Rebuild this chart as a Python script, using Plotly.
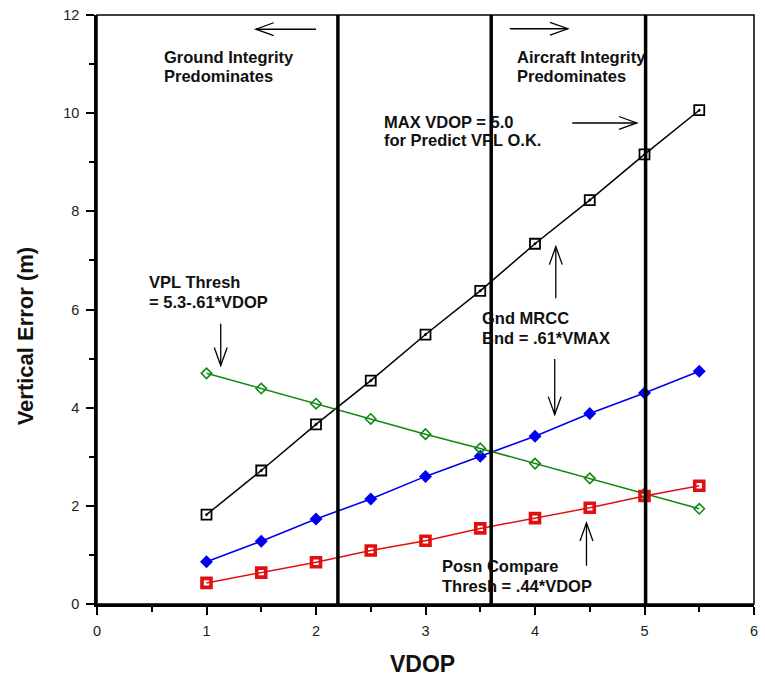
import plotly.graph_objects as go

# ---- data ----
vdop = [1.0, 1.5, 2.0, 2.5, 3.0, 3.5, 4.0, 4.5, 5.0, 5.5]
vmax = [1.82, 2.72, 3.66, 4.55, 5.49, 6.38, 7.34, 8.23, 9.16, 10.06]
vpl_thresh = [4.70, 4.39, 4.08, 3.77, 3.46, 3.17, 2.86, 2.56, 2.25, 1.94]
gnd_mrcc = [0.86, 1.28, 1.73, 2.14, 2.60, 3.01, 3.42, 3.88, 4.30, 4.74]
posn_thresh = [0.43, 0.64, 0.85, 1.09, 1.29, 1.54, 1.75, 1.96, 2.20, 2.41]
vlines = [2.2, 3.6, 5.01]

x_ticks = [0, 1, 2, 3, 4, 5, 6]
y_ticks = [0, 2, 4, 6, 8, 10, 12]

# text labels: (x, y, text)
labels = [
    (0.59, 11.14, "Ground Integrity"),
    (0.59, 10.76, "Predominates"),
    (3.82, 11.14, "Aircraft Integrity"),
    (3.82, 10.76, "Predominates"),
    (2.60, 9.82, "MAX VDOP = 5.0"),
    (2.60, 9.45, "for Predict VPL O.K."),
    (0.46, 6.57, "VPL Thresh"),
    (0.46, 6.16, "= 5.3-.61*VDOP"),
    (3.50, 5.82, "Gnd MRCC"),
    (3.50, 5.41, "Bnd = .61*VMAX"),
    (3.13, 0.77, "Posn Compare"),
    (3.13, 0.37, "Thresh = .44*VDOP"),
]

# arrows: (x_tail, y_tail, x_tip, y_tip)
arrows = [
    (2.00, 11.71, 1.45, 11.71),
    (3.77, 11.72, 4.30, 11.72),
    (4.34, 9.80, 4.93, 9.80),
    (4.19, 6.23, 4.19, 7.28),
    (4.18, 4.99, 4.18, 3.86),
    (4.47, 0.78, 4.47, 1.65),
    (1.13, 5.71, 1.13, 4.86),
]

W, H = 765, 682
L, R, T, B = 97, 7, 13, 78
XR = [0, 6]
YR = [0, 12]
pw, ph = W - L - R, H - T - B
sx = pw / (XR[1] - XR[0])
sy = ph / (YR[1] - YR[0])

FONT = "Arial, 'Liberation Sans', sans-serif"

fig = go.Figure()

fig.add_trace(go.Scatter(x=vdop, y=vmax, mode="lines+markers",
                         line=dict(color="black", width=1.5),
                         marker=dict(symbol="square-open-dot", size=10, color="black",
                                     line=dict(width=1.8, color="black"))))
fig.add_trace(go.Scatter(x=vdop, y=gnd_mrcc, mode="lines+markers",
                         line=dict(color="#0000ee", width=1.6),
                         marker=dict(symbol="diamond", size=10, color="#0000ee")))
fig.add_trace(go.Scatter(x=vdop, y=vpl_thresh, mode="lines+markers",
                         line=dict(color="#118811", width=1.5),
                         marker=dict(symbol="diamond-open", size=8, color="#118811",
                                     line=dict(width=1.6, color="#118811"))))
fig.add_trace(go.Scatter(x=vdop, y=posn_thresh, mode="lines+markers",
                         line=dict(color="#e01010", width=1.5),
                         marker=dict(symbol="square-open", size=9, color="#e01010",
                                     line=dict(width=3.6, color="#e01010"))))

shapes = []
for i, xv in enumerate(vlines):
    shapes.append(dict(type="line", xref="x", yref="y", x0=xv, x1=xv,
                       y0=YR[0], y1=(12.07 if i == 2 else YR[1]),
                       line=dict(color="black", width=3.5), layer="above"))

# plot frame (top/right thin)
shapes.append(dict(type="rect", xref="paper", yref="paper", x0=0, x1=1, y0=0, y1=1,
                   line=dict(color="black", width=1.5), layer="below"))

hl, hw = 18, 6.5  # arrow head length / half width, px
for (x0, y0, x1, y1) in arrows:
    shapes.append(dict(type="line", xref="x", yref="y", x0=x0, y0=y0, x1=x1, y1=y1,
                       line=dict(color="black", width=1.3)))
    if y0 == y1:
        d = 1 if x1 > x0 else -1
        bx = x1 - d * hl / sx
        path = f"M {bx} {y1 + hw/sy} L {x1} {y1} L {bx} {y1 - hw/sy}"
    else:
        d = 1 if y1 > y0 else -1
        by = y1 - d * hl / sy
        path = f"M {x1 - hw/sx} {by} L {x1} {y1} L {x1 + hw/sx} {by}"
    shapes.append(dict(type="path", xref="x", yref="y", path=path,
                       line=dict(color="black", width=1.3)))

annotations = []
for (x, y, t) in labels:
    annotations.append(dict(x=x, y=y, xref="x", yref="y", text=f"<b>{t}</b>",
                            showarrow=False, xanchor="left", yanchor="middle",
                            font=dict(family=FONT, size=16.5, color="#111")))

annotations.append(dict(x=(424 - L) / pw, y=-(664 - (H - B)) / ph, xref="paper", yref="paper",
                        text="<b>VDOP</b>", showarrow=False, xanchor="center", yanchor="middle",
                        font=dict(family=FONT, size=23, color="#111")))
annotations.append(dict(x=(25 - L) / pw, y=((H - B) - 335) / ph, xref="paper", yref="paper",
                        text="<b>Vertical Error (m)</b>", showarrow=False, textangle=-90,
                        xanchor="center", yanchor="middle",
                        font=dict(family=FONT, size=22, color="#111")))

fig.update_layout(
    width=W, height=H,
    margin=dict(l=L, r=R, t=T, b=B, pad=0),
    paper_bgcolor="white", plot_bgcolor="white",
    showlegend=False,
    shapes=shapes, annotations=annotations,
    font=dict(family=FONT, size=14.5, color="#222"),
)
fig.update_xaxes(range=XR, tickmode="array", tickvals=x_ticks, ticktext=[str(v) for v in x_ticks],
                 showgrid=False, zeroline=False, showline=True, linecolor="black", linewidth=2.5,
                 ticks="outside", ticklen=8, tickwidth=1.5, tickcolor="black",
                 ticklabelstandoff=4, ticklabeloverflow="allow",
                 minor=dict(ticks="outside", ticklen=5, tickwidth=1.5, tickcolor="black", dtick=0.5,
                            showgrid=False),
                 tickfont=dict(size=14.5, color="#222"))
fig.update_yaxes(range=YR, tickmode="array", tickvals=y_ticks, ticktext=[str(v) for v in y_ticks],
                 showgrid=False, zeroline=False, showline=True, linecolor="black", linewidth=2.5,
                 ticks="outside", ticklen=8, tickwidth=1.5, tickcolor="black",
                 ticklabelstandoff=4, ticklabeloverflow="allow",
                 minor=dict(ticks="outside", ticklen=5, tickwidth=1.5, tickcolor="black", dtick=1,
                            showgrid=False),
                 tickfont=dict(size=14.5, color="#222"))

fig.write_html("out.html")
